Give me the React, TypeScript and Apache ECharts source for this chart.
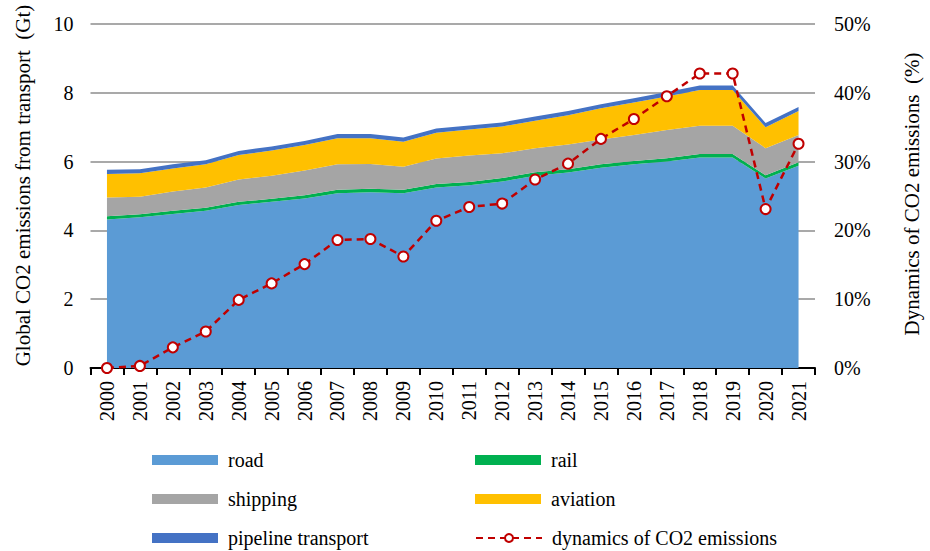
import React, { useEffect, useRef } from "react";
import * as echarts from "echarts";

const years = ["2000","2001","2002","2003","2004","2005","2006","2007","2008","2009","2010","2011","2012","2013","2014","2015","2016","2017","2018","2019","2020","2021"];
const road = [4.32,4.38,4.48,4.57,4.74,4.83,4.93,5.08,5.11,5.08,5.25,5.31,5.42,5.59,5.68,5.82,5.92,6.0,6.12,6.12,5.51,5.88];
const rail = [0.09,0.09,0.09,0.09,0.09,0.09,0.09,0.1,0.1,0.1,0.1,0.1,0.1,0.1,0.1,0.1,0.1,0.1,0.1,0.1,0.09,0.1];
const shipping = [0.55,0.51,0.56,0.59,0.65,0.67,0.72,0.74,0.72,0.67,0.74,0.77,0.72,0.7,0.72,0.72,0.75,0.82,0.82,0.82,0.79,0.79];
const aviation = [0.68,0.68,0.67,0.67,0.71,0.73,0.74,0.76,0.75,0.73,0.75,0.75,0.78,0.8,0.85,0.91,0.95,0.97,1.04,1.04,0.61,0.7];
const pipeline = [0.12,0.12,0.12,0.12,0.12,0.12,0.12,0.12,0.12,0.12,0.12,0.12,0.12,0.12,0.12,0.12,0.12,0.13,0.13,0.13,0.12,0.12];
const dynamics = [0,0.3,3.0,5.3,9.9,12.3,15.1,18.6,18.75,16.2,21.4,23.4,23.9,27.4,29.7,33.3,36.2,39.5,42.8,42.8,23.1,32.6];
const leftTicks = [0, 2, 4, 6, 8, 10];
const rightTicks = [0, 10, 20, 30, 40, 50];

const FONT = '"Liberation Serif", "Times New Roman", serif';

export default function App() {
  const ref = useRef<HTMLDivElement>(null);
  useEffect(() => {
    if (!ref.current) return;
    document.body.style.margin = "0";
    const chart = echarts.init(ref.current, null, { renderer: "svg" });
    const area = (name: string, data: number[], color: string) => ({
      name,
      type: "line",
      stack: "total",
      data,
      symbol: "none",
      showSymbol: false,
      lineStyle: { width: 0, color },
      itemStyle: { color },
      areaStyle: { color, opacity: 1 },
      z: 2,
    });
    const legendBase = {
      itemWidth: 66,
      itemHeight: 10,
      padding: 0,
      orient: "horizontal",
      textStyle: { fontSize: 20, fontFamily: FONT, color: "#000", padding: [0, 0, 0, 5] },
      selectedMode: false,
    };
    const legendItems: [string, number, number, boolean][] = [
      ["road", 152, 450, true],
      ["shipping", 152, 489, true],
      ["pipeline transport", 152, 528, true],
      ["rail", 475, 450, true],
      ["aviation", 475, 489, true],
      ["dynamics of CO2 emissions", 475, 528, false],
    ];
    chart.setOption({
      animation: false,
      backgroundColor: "#fff",
      grid: { left: 90.5, right: 107.4, top: 24, bottom: 183, containLabel: false },
      legend: legendItems.map(([name, left, top, rect]) => ({
        ...legendBase,
        left,
        top,
        data: [rect ? { name, icon: "rect" } : { name }],
      })),
      xAxis: {
        type: "category",
        data: years,
        boundaryGap: true,
        axisLine: { show: true, lineStyle: { color: "#000", width: 2 } },
        axisTick: { show: true, interval: 0, length: 7, lineStyle: { color: "#000", width: 2 } },
        axisLabel: { interval: 0, rotate: 90, margin: 13, fontSize: 20, fontFamily: FONT, color: "#000" },
        splitLine: { show: false },
      },
      yAxis: [
        {
          type: "value",
          min: leftTicks[0],
          max: leftTicks[leftTicks.length - 1],
          interval: 2,
          name: "Global CO2 emissions from transport  (Gt)",
          nameLocation: "middle",
          nameRotate: 90,
          nameGap: 57,
          nameTextStyle: { fontSize: 21, fontFamily: FONT, color: "#000", padding: [0, 0, 0, 21] },
          axisLine: { show: false },
          axisTick: { show: false },
          axisLabel: { margin: 17, fontSize: 20, fontFamily: FONT, color: "#000" },
          splitLine: { show: true, lineStyle: { color: "#8c8c8c", width: 1.5 } },
        },
        {
          type: "value",
          min: rightTicks[0],
          max: rightTicks[rightTicks.length - 1],
          interval: 10,
          position: "right",
          name: "Dynamics of CO2 emissions  (%)",
          nameLocation: "middle",
          nameRotate: 90,
          nameGap: 86,
          nameTextStyle: { fontSize: 21, fontFamily: FONT, color: "#000", padding: [0, 0, 0, 4] },
          axisLine: { show: false },
          axisTick: { show: false },
          axisLabel: { margin: 19, fontSize: 20, fontFamily: FONT, color: "#000", formatter: "{value}%" },
          splitLine: { show: false },
        },
      ],
      series: [
        area("road", road, "#5B9BD5"),
        area("rail", rail, "#00B050"),
        area("shipping", shipping, "#A5A5A5"),
        area("aviation", aviation, "#FFC000"),
        area("pipeline transport", pipeline, "#4472C4"),
        {
          name: "dynamics of CO2 emissions",
          type: "line",
          yAxisIndex: 1,
          data: dynamics,
          symbol: "circle",
          symbolSize: 10,
          showSymbol: true,
          lineStyle: { color: "#C00000", width: 2.5, type: [7, 5] },
          itemStyle: { color: "#fff", borderColor: "#C00000", borderWidth: 2 },
          z: 5,
        },
      ],
    });
    return () => chart.dispose();
  }, []);
  return <div ref={ref} style={{ width: 930, height: 551 }} />;
}
